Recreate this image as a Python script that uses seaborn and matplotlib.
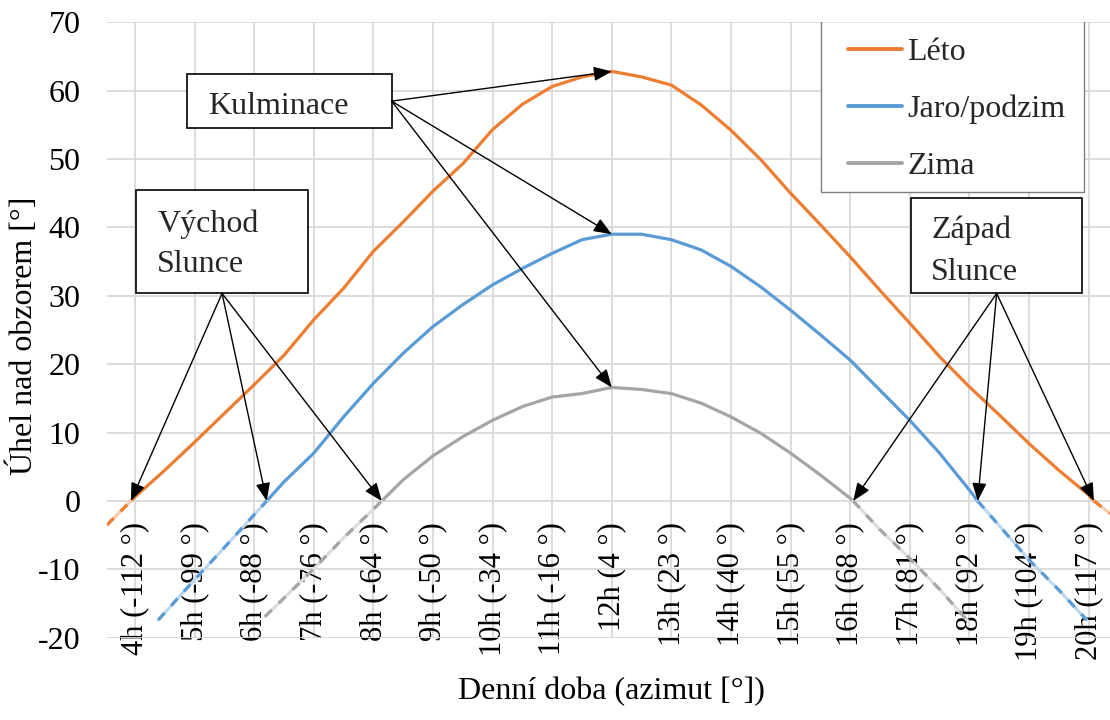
import numpy as np
import pandas as pd
import matplotlib.pyplot as plt
import seaborn as sns
from matplotlib.lines import Line2D
from matplotlib.patches import Rectangle

# hodiny (osa x) a uhel nad obzorem
leto_h = [3.53, 3.93, 4.0, 4.5, 5.0, 5.5, 6.0, 6.5, 7.0, 7.5, 8.0, 8.5, 9.0, 9.5, 10.0, 10.5,
          11.0, 11.5, 12.0, 12.5, 13.0, 13.5, 14.0, 14.5, 15.0, 15.5, 16.0, 16.5, 17.0, 17.5,
          18.0, 18.5, 19.0, 19.5, 20.0, 20.09, 20.36]
leto_u = [-3.5, 0.0, 0.6, 4.5, 8.6, 12.8, 17.0, 21.3, 26.5, 31.1, 36.5, 40.8, 45.3, 49.3, 54.3, 58.0,
          60.6, 62.0, 62.8, 62.0, 60.8, 57.9, 54.2, 49.9, 45.0, 40.4, 35.7, 30.8, 26.0, 21.1,
          16.7, 12.6, 8.4, 4.5, 0.9, 0.0, -1.8]

jaro_h = [4.39, 5.0, 5.5, 6.0, 6.21, 6.5, 7.0, 7.5, 8.0, 8.5, 9.0, 9.5, 10.0, 10.5, 11.0, 11.5,
          12.0, 12.5, 13.0, 13.5, 14.0, 14.5, 15.0, 15.5, 16.0, 16.5, 17.0, 17.5, 18.0, 18.14,
          18.5, 19.0, 19.5, 19.97]
jaro_u = [-17.4, -11.5, -6.8, -2.0, 0.0, 2.8, 7.0, 12.3, 17.2, 21.6, 25.5, 28.7, 31.6, 34.0, 36.2, 38.2,
          39.0, 39.0, 38.2, 36.7, 34.3, 31.3, 27.9, 24.3, 20.6, 16.2, 11.8, 7.0, 1.6, 0.0,
          -3.6, -8.6, -13.0, -17.4]

zima_h = [6.18, 6.5, 7.0, 7.5, 8.0, 8.14, 8.5, 9.0, 9.5, 10.0, 10.5, 11.0, 11.5, 12.0, 12.5, 13.0,
          13.5, 14.0, 14.5, 15.0, 15.5, 16.0, 16.05, 16.5, 17.0, 17.5, 17.98]
zima_u = [-16.9, -14.2, -9.9, -5.4, -1.2, 0.0, 3.1, 6.6, 9.4, 11.8, 13.8, 15.2, 15.7, 16.6, 16.3, 15.7,
          14.3, 12.3, 9.9, 7.0, 3.8, 0.4, 0.0, -4.2, -8.4, -12.9, -17.6]

tick_hodiny = list(range(4, 21))
tick_popisky = ["4h (-112 °)", "5h (-99 °)", "6h (-88 °)", "7h (-76 °)", "8h (-64 °)",
                "9h (-50 °)", "10h (-34 °)", "11h (-16 °)", "12h (4 °)", "13h (23 °)",
                "14h (40 °)", "15h (55 °)", "16h (68 °)", "17h (81 °)", "18h (92 °)",
                "19h (104 °)", "20h (117 °)"]

obdobi = ["Léto", "Jaro/podzim", "Zima"]
barvy = {"Léto": "#ED7D31", "Jaro/podzim": "#5B9BD5", "Zima": "#A5A5A5"}
svetle = {"Léto": "#F8CBAD", "Jaro/podzim": "#BDD7EE", "Zima": "#DDDDDD"}

serie = {
    "Léto": (np.array(leto_h), np.array(leto_u)),
    "Jaro/podzim": (np.array(jaro_h), np.array(jaro_u)),
    "Zima": (np.array(zima_h), np.array(zima_u)),
}

sns.set_theme(style="white")
plt.rcParams["font.family"] = ["Liberation Serif", "DejaVu Serif"]
plt.rcParams["axes.unicode_minus"] = False
FS = 23

fig = plt.figure(figsize=(11.1, 7.2), dpi=100)
ax = fig.add_axes([0.0964, 0.1142, 0.9036, 0.855])

# osa x prochazi nulou (nastavit pred popisky, jinak se resetuji)
for s in ["top", "right", "left"]:
    ax.spines[s].set_visible(False)
ax.spines["bottom"].set_position(("data", 0))
ax.spines["bottom"].set_color("none")

# cast nad obzorem - plna cara
rows = []
for name in obdobi:
    h, u = serie[name]
    m = u >= 0
    rows.append(pd.DataFrame({"hodina": h[m], "uhel": u[m], "obdobi": name}))
df = pd.concat(rows, ignore_index=True)
sns.lineplot(data=df, x="hodina", y="uhel", hue="obdobi", palette=barvy,
             estimator=None, linewidth=2.3, legend=False, ax=ax, zorder=3)

# cast pod obzorem - vybledla
for name in obdobi:
    h, u = serie[name]
    neg = np.where(u <= 0, u, np.nan)
    ax.plot(h, neg, color=svetle[name], lw=2.3, zorder=3, solid_capstyle="round")
    ax.plot(h, neg, color=barvy[name], lw=2.3, zorder=3, dashes=(3, 3))

ax.set_xlim(3.53, 20.36)
ax.set_ylim(-20, 70)
ax.set_yticks(range(-20, 71, 10))
ax.set_xticks(tick_hodiny)
ax.set_xticklabels(tick_popisky)
ax.grid(True, color="#D9D9D9", lw=1.3)
ax.set_axisbelow(True)
ax.tick_params(axis="x", length=0, pad=15, labelsize=22, colors="black", labelrotation=90)
ax.tick_params(axis="y", length=0, pad=19, labelsize=FS, colors="black")

ax.set_xlabel("Denní doba (azimut [°])", fontsize=FS, color="black")
ax.xaxis.set_label_coords(0.503, -0.064)
ax.set_ylabel("Úhel nad obzorem [°]", fontsize=FS, color="black")
ax.yaxis.set_label_coords(-0.068, 0.49)

# legenda
ax.add_patch(Rectangle((0.7119, 0.7244), 0.2622, 0.2772, transform=ax.transAxes,
                       facecolor="white", edgecolor="#7F7F7F", lw=1.0, zorder=4))
handles = [Line2D([], [], color=barvy[n], lw=2.8) for n in obdobi]
ax.legend(handles, obdobi, loc="upper left", bbox_to_anchor=(0.7388, 0.975), frameon=False,
          fontsize=FS, borderpad=0, borderaxespad=0, labelspacing=0.86,
          handlelength=1.7, handletextpad=0.16)

# popisky s sipkami
boxy = [((0.0801, 0.8274), 0.2038, 0.0882),
        ((0.0289, 0.5594), 0.1718, 0.1677),
        ((0.8013, 0.5594), 0.1711, 0.1543)]
for (xy, w, hgt) in boxy:
    ax.add_patch(Rectangle(xy, w, hgt, transform=ax.transAxes, facecolor="white",
                           edgecolor="black", lw=1.2, zorder=4))
ax.text(0.1009, 0.8506, "Kulminace", transform=ax.transAxes, fontsize=FS, va="baseline", zorder=5)
ax.text(0.0501, 0.6594, "Východ", transform=ax.transAxes, fontsize=FS, va="baseline", zorder=5)
ax.text(0.0501, 0.5945, "Slunce", transform=ax.transAxes, fontsize=FS, va="baseline", zorder=5)
ax.text(0.8215, 0.6493, "Západ", transform=ax.transAxes, fontsize=FS, va="baseline", zorder=5)
ax.text(0.8215, 0.5811, "Slunce", transform=ax.transAxes, fontsize=FS, va="baseline", zorder=5)

sipka = dict(arrowstyle="-|>,head_length=0.55,head_width=0.22", mutation_scale=20,
             color="black", lw=1.0, shrinkA=0, shrinkB=0)

def nuly(h, u):
    idx = np.where(u == 0)[0]
    return h[idx[0]], h[idx[-1]]

for name in obdobi:
    h, u = serie[name]
    i = int(np.argmax(u))
    ax.annotate("", xy=(h[i], u[i]), xycoords="data", xytext=(0.2838, 0.8717),
                textcoords="axes fraction", arrowprops=sipka, zorder=6)
    vychod, zapad = nuly(h, u)
    ax.annotate("", xy=(vychod, 0), xycoords="data", xytext=(0.1147, 0.5594),
                textcoords="axes fraction", arrowprops=sipka, zorder=6)
    ax.annotate("", xy=(zapad, 0), xycoords="data", xytext=(0.887, 0.5594),
                textcoords="axes fraction", arrowprops=sipka, zorder=6)

fig.savefig("out.png", dpi=100)
plt.close(fig)
